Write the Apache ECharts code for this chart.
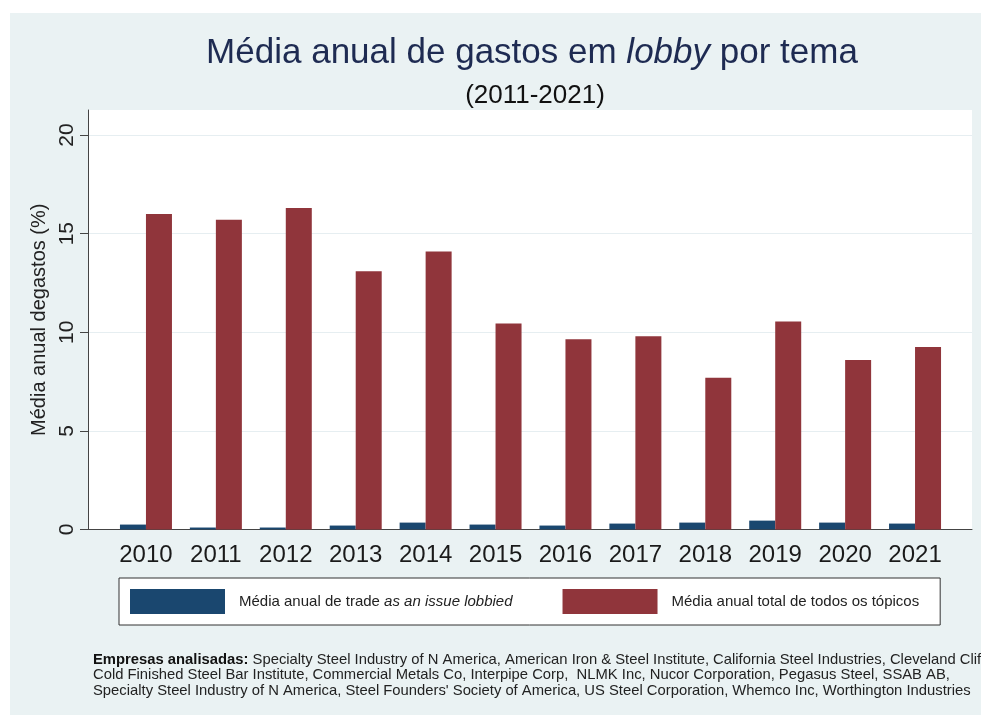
<!DOCTYPE html>
<html>
<head>
<meta charset="utf-8">
<script src="https://cdn.jsdelivr.net/npm/echarts@6/dist/echarts.min.js"></script>
<style>
  html, body { margin: 0; padding: 0; background: #fff; }
  #chart { width: 981px; height: 715px; }
</style>
</head>
<body>
<div id="chart"></div>
<script>
// valores
const years = ['2010', '2011', '2012', '2013', '2014', '2015', '2016', '2017', '2018', '2019', '2020', '2021'];
const tradeAvg = [0.25, 0.1, 0.1, 0.2, 0.35, 0.25, 0.2, 0.3, 0.35, 0.45, 0.35, 0.3];
const totalAvg = [16.0, 15.7, 16.3, 13.1, 14.1, 10.45, 9.65, 9.8, 7.7, 10.55, 8.6, 9.25];
const yTicks = [0, 5, 10, 15, 20];

const tradeName = 'Média anual de trade as an issue lobbied';
const totalName = 'Média anual total de todos os tópicos';

const font = '"Liberation Sans", Arial, sans-serif';
const yMax = 21.27;

let chart = echarts.init(document.getElementById('chart'));
chart.setOption({
  backgroundColor: '#fff',
  textStyle: { fontFamily: font },
  graphic: [{
    type: 'rect',
    z: -10,
    shape: { x: 10, y: 13, width: 971, height: 702 },
    style: { fill: '#eaf2f3' }
  }],
  title: [
    {
      text: '{n|Média anual de gastos em }{i|lobby}{n| por tema}',
      left: 527,
      top: 31,
      textAlign: 'center',
      textStyle: {
        fontWeight: 'normal',
        rich: {
          n: { fontSize: 35, fontWeight: 'normal', color: '#1e2b52', fontFamily: font },
          i: { fontSize: 35, fontWeight: 'normal', color: '#1e2b52', fontFamily: font, fontStyle: 'italic' }
        }
      }
    },
    {
      text: '(2011-2021)',
      left: 530,
      top: 78,
      textAlign: 'center',
      textStyle: { fontSize: 26, fontWeight: 'normal', color: '#111', fontFamily: font }
    },
    {
      text: '{b|Empresas analisadas:}{n| Specialty Steel Industry of N America, American Iron & Steel Institute, California Steel Industries, Cleveland Cliffs,}\n' +
        '{n|Cold Finished Steel Bar Institute, Commercial Metals Co, Interpipe Corp,  NLMK Inc, Nucor Corporation, Pegasus Steel, SSAB AB,}\n' +
        '{n|Specialty Steel Industry of N America, Steel Founders\' Society of America, US Steel Corporation, Whemco Inc, Worthington Industries}',
      left: 93,
      top: 652,
      padding: 0,
      textStyle: {
        fontWeight: 'normal',
        rich: {
          b: { fontSize: 14.8, fontWeight: 'bold', color: '#111', lineHeight: 15.5, fontFamily: font },
          n: { fontSize: 14.8, fontWeight: 'normal', color: '#222', lineHeight: 15.5, fontFamily: font }
        }
      }
    }
  ],
  legend: {
    data: [tradeName, totalName],
    left: 119,
    top: 578,
    padding: [11, 21, 11, 11],
    itemWidth: 95,
    itemHeight: 25,
    itemGap: 50,
    icon: 'rect',
    backgroundColor: '#fff',
    borderColor: '#333',
    borderWidth: 1,
    borderRadius: 0,
    formatter: (name) => name === tradeName
      ? '{n|Média anual de trade }{i|as an issue lobbied}'
      : '{n|' + name + '}',
    textStyle: {
      padding: [0, 0, 0, 9],
      rich: {
        n: { fontSize: 15, color: '#222', fontFamily: font },
        i: { fontSize: 15, color: '#222', fontFamily: font, fontStyle: 'italic' }
      }
    }
  },
  grid: [
    // moldura do gráfico (fundo branco, eixo y)
    { left: 88, right: 9, top: 110, bottom: 185.5, show: true, backgroundColor: '#fff', borderWidth: 0 },
    // área das barras
    { left: 111, right: 31, top: 110, bottom: 185.5 }
  ],
  xAxis: [
    {
      gridIndex: 0,
      type: 'value',
      min: 0,
      max: 1,
      axisLine: { show: true, onZero: false, lineStyle: { color: '#444', width: 1 } },
      axisTick: { show: false },
      axisLabel: { show: false },
      splitLine: { show: false }
    },
    {
      gridIndex: 1,
      type: 'category',
      data: years,
      axisLine: { show: false },
      axisTick: { show: false },
      axisLabel: { fontSize: 24, color: '#1a1a1a', margin: 14, fontFamily: font }
    }
  ],
  yAxis: [
    {
      gridIndex: 0,
      type: 'value',
      min: 0,
      max: yMax,
      interval: 5,
      name: 'Média anual degastos (%)',
      nameLocation: 'middle',
      nameGap: 36,
      nameTextStyle: { fontSize: 20, color: '#222', fontFamily: font },
      axisLine: { show: true, lineStyle: { color: '#444', width: 1 } },
      axisTick: { show: true, length: 8, customValues: yTicks, lineStyle: { color: '#444' } },
      axisLabel: {
        customValues: yTicks,
        rotate: 90,
        fontSize: 21,
        color: '#222',
        margin: 10,
        fontFamily: font
      },
      splitLine: { show: true, lineStyle: { color: '#e6eef1', width: 1 } }
    },
    {
      gridIndex: 1,
      type: 'value',
      min: 0,
      max: yMax,
      show: false,
      splitLine: { show: false }
    }
  ],
  series: [
    {
      name: tradeName,
      type: 'bar',
      xAxisIndex: 1,
      yAxisIndex: 1,
      barWidth: 26,
      barGap: '0%',
      itemStyle: { color: '#1a476f' },
      data: tradeAvg
    },
    {
      name: totalName,
      type: 'bar',
      xAxisIndex: 1,
      yAxisIndex: 1,
      barWidth: 26,
      barGap: '0%',
      itemStyle: { color: '#90353b' },
      data: totalAvg
    }
  ]
});
window.addEventListener("resize", () => {
  chart.resize();
});
</script>
</body>
</html>
